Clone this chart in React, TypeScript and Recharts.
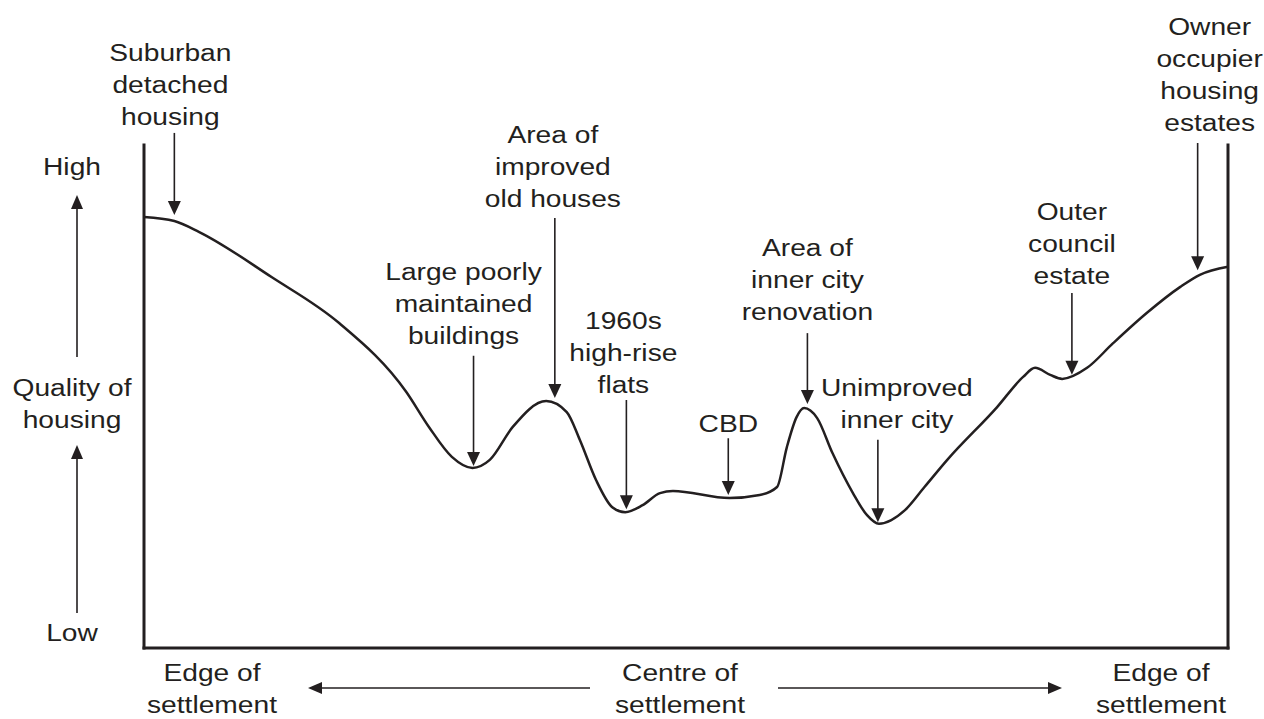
import React from 'react';
import { LineChart, Line, XAxis, YAxis, ReferenceLine } from 'recharts';

// ---- Data: distance across settlement (0 = edge, 100 = other edge) and housing quality (0..100)
const distance = [
  0, 2.8, 5.1, 11.8, 18.0, 24.2, 26.3, 28.4, 30.3, 31.9, 34.0, 37.1, 39.0, 40.2, 41.7, 43.2, 44.4,
  46.0, 47.6, 48.8, 54.0, 56.8, 58.4, 59.3, 60.2, 60.9, 62.1, 63.5, 65.4, 66.7, 67.8, 70.2, 72.0, 74.1,
  78.7, 81.1, 82.2, 83.6, 84.7, 87.0, 89.4, 92.5, 95.6, 97.4, 100,
];
const quality = [
  85.7, 84.9, 82.7, 73.7, 64.6, 50.9, 43.9, 38.0, 35.8, 37.4, 43.9, 49.1, 46.9, 41.4, 33.4, 28.0, 27.0,
  28.4, 30.8, 31.2, 29.8, 30.4, 32.0, 39.9, 45.9, 47.7, 45.7, 38.8, 30.8, 26.4, 24.7, 27.4, 32.0, 37.4,
  47.9, 53.9, 55.7, 54.3, 53.5, 55.7, 60.6, 66.6, 71.8, 74.2, 75.8,
];

// ---- Annotations
const annotationLabels = [
  ['Suburban', 'detached', 'housing'],
  ['Large poorly', 'maintained', 'buildings'],
  ['Area of', 'improved', 'old houses'],
  ['1960s', 'high-rise', 'flats'],
  ['CBD'],
  ['Area of', 'inner city', 'renovation'],
  ['Unimproved', 'inner city'],
  ['Outer', 'council', 'estate'],
  ['Owner', 'occupier', 'housing', 'estates'],
];
const annotationX = [2.8, 30.4, 37.9, 44.5, 53.9, 61.2, 67.7, 85.6, 97.2];
const annotationTail = [102.4, 58.1, 85.5, 49.3, 41.7, 62.6, 41.4, 70.6, 100.4];
const annotationTip = [86.1, 36.2, 49.7, 27.6, 30.4, 48.5, 25.0, 54.3, 75.1];

// layout of the annotation texts (offset from arrow, gap above arrow tail)
const labelDx = [-4, -10, -2, -3, 0, 0, 19, 0, 12];
const labelGap = [8, 12, 11, 7, 6, 13, 12, 9, 12];

const curveData = distance.map((x, i) => ({ x, q: quality[i] }));

const INK = '#231f20';
const FONT = '"Liberation Sans", Arial, Helvetica, sans-serif';
const FS = 24.5;
const SX = 1.15;
const LINE_H = 32;

function Label({ x, y, text }: { x: number; y: number; text: string }) {
  return (
    <text
      transform={`translate(${x},${y}) scale(${SX},1)`}
      textAnchor="middle"
      fontSize={FS}
      fontFamily={FONT}
      fill={INK}
    >
      {text}
    </text>
  );
}

function makeArrowShape(lines: string[], dx: number, gap: number) {
  return (p: any) => {
    const x = Number(p.x1);
    const tail = Math.min(Number(p.y1), Number(p.y2));
    const tip = Math.max(Number(p.y1), Number(p.y2));
    const head = 14;
    const hw = 6.5;
    const lastBase = tail - gap;
    return (
      <g>
        <line x1={x} y1={tail} x2={x} y2={tip - head + 1} stroke={INK} strokeWidth={1.6} />
        <polygon points={`${x - hw},${tip - head} ${x + hw},${tip - head} ${x},${tip}`} fill={INK} />
        {lines.map((t, i) => (
          <Label key={i} x={x + dx} y={lastBase - (lines.length - 1 - i) * LINE_H} text={t} />
        ))}
      </g>
    );
  };
}

function Overlay() {
  const upArrow = (x: number, y1: number, tip: number) => (
    <g>
      <line x1={x} y1={y1} x2={x} y2={tip + 13} stroke={INK} strokeWidth={1.6} />
      <polygon points={`${x - 6},${tip + 14} ${x + 6},${tip + 14} ${x},${tip}`} fill={INK} />
    </g>
  );
  const hArrow = (y: number, x1: number, tip: number) => {
    const dir = tip > x1 ? 1 : -1;
    return (
      <g>
        <line x1={x1} y1={y} x2={tip - dir * 13} y2={y} stroke={INK} strokeWidth={1.6} />
        <polygon points={`${tip - dir * 14},${y - 6} ${tip - dir * 14},${y + 6} ${tip},${y}`} fill={INK} />
      </g>
    );
  };
  return (
    <svg width={1264} height={719} style={{ position: 'absolute', left: 0, top: 0, pointerEvents: 'none' }}>
      <Label x={72} y={175} text="High" />
      {upArrow(77, 357, 195)}
      <Label x={72} y={396} text="Quality of" />
      <Label x={72} y={428} text="housing" />
      {upArrow(77, 613, 445)}
      <Label x={72} y={641} text="Low" />

      <Label x={212} y={681} text="Edge of" />
      <Label x={212} y={713} text="settlement" />
      <Label x={680} y={681} text="Centre of" />
      <Label x={680} y={713} text="settlement" />
      <Label x={1161} y={681} text="Edge of" />
      <Label x={1161} y={713} text="settlement" />
      {hArrow(688, 590, 308)}
      {hArrow(688, 778, 1062)}
    </svg>
  );
}

export default function App() {
  const axisStyle = { stroke: INK, strokeWidth: 3, strokeLinecap: 'square' as const };
  return (
    <div style={{ position: 'absolute', left: 0, top: 0, width: 1264, height: 719, background: '#fff' }}>
      <LineChart
        width={1264}
        height={719}
        data={curveData}
        margin={{ top: 145, left: 143, right: 35, bottom: 70 }}
      >
        <XAxis
          type="number"
          dataKey="x"
          domain={[0, 100]}
          height={1}
          tick={false}
          tickLine={false}
          axisLine={axisStyle}
        />
        <YAxis type="number" domain={[0, 100]} width={1} tick={false} tickLine={false} axisLine={axisStyle} />
        <YAxis
          yAxisId="r"
          orientation="right"
          type="number"
          domain={[0, 100]}
          width={1}
          tick={false}
          tickLine={false}
          axisLine={axisStyle}
        />
        <Line
          type="monotone"
          dataKey="q"
          stroke={INK}
          strokeWidth={2.5}
          dot={false}
          activeDot={false}
          isAnimationActive={false}
        />
        {annotationLabels.map((lines, i) => (
          <ReferenceLine
            key={i}
            ifOverflow="visible"
            segment={[
              { x: annotationX[i], y: annotationTail[i] },
              { x: annotationX[i], y: annotationTip[i] },
            ]}
            shape={makeArrowShape(lines, labelDx[i], labelGap[i])}
          />
        ))}
      </LineChart>
      <Overlay />
    </div>
  );
}
